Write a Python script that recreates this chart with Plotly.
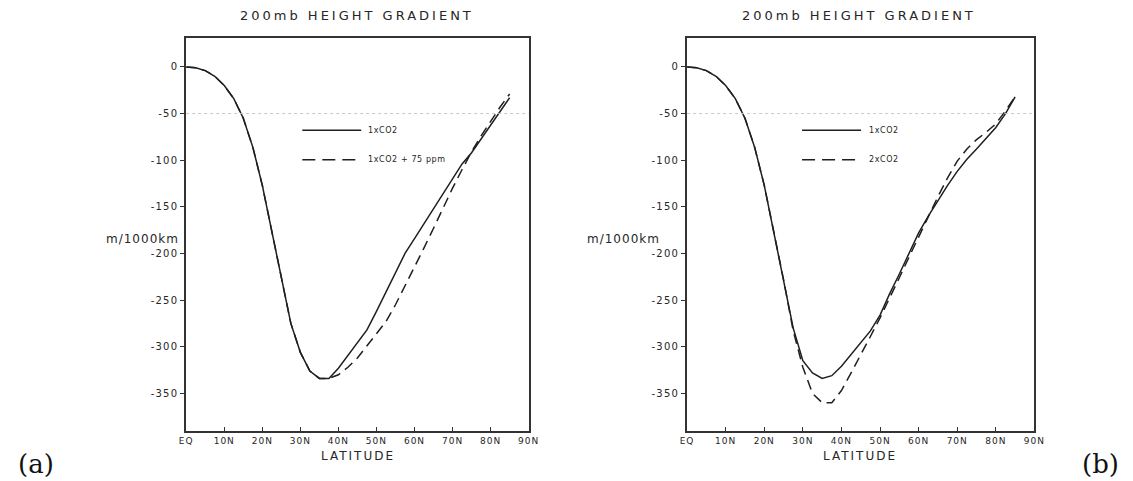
import plotly.graph_objects as go

# ---------------- data ----------------
lat = [0, 2.5, 5, 7.5, 10, 12.5, 15, 17.5, 20, 22.5, 25, 27.5, 30, 32.5, 35, 37.5,
       40, 42.5, 45, 47.5, 50, 52.5, 55, 57.5, 60, 62.5, 65, 67.5, 70, 72.5, 75,
       77.5, 80, 82.5, 85]

# panel (a)
a_1xco2 = [0, -1, -4, -10, -20, -34, -55, -86, -127, -177, -226, -275, -306, -326,
           -334, -334, -323, -309, -296, -282, -262, -241, -220, -200, -184, -168,
           -153, -137, -120, -104, -92, -77, -62, -47, -33]
a_75ppm = [0, -1, -4, -10, -20, -34, -55, -86, -127, -177, -226, -275, -306, -326,
           -334, -334, -330, -322, -312, -299, -287, -273, -255, -235, -214, -194,
           -173, -151, -130, -110, -91, -74, -58, -43, -29]

# panel (b)
b_1xco2 = [0, -1, -4, -10, -20, -34, -55, -86, -127, -177, -228, -280, -315, -328,
           -334, -331, -321, -308, -296, -283, -266, -243, -222, -200, -178, -160,
           -143, -127, -112, -99, -88, -76, -65, -50, -32]
b_2xco2 = [0, -1, -4, -10, -20, -34, -55, -86, -127, -177, -228, -283, -322, -350,
           -360, -360, -347, -328, -309, -289, -269, -248, -226, -204, -182, -160,
           -139, -119, -101, -88, -78, -70, -61, -47, -32]

x_tickvals = [0, 10, 20, 30, 40, 50, 60, 70, 80, 90]
x_ticktext = ["EQ", "10N", "20N", "30N", "40N", "50N", "60N", "70N", "80N", "90N"]
y_tickvals = [0, -50, -100, -150, -200, -250, -300, -350]
y_ticktext = ["0", "-50", "-100", "-150", "-200", "-250", "-300", "-350"]

title_text = "200mb HEIGHT GRADIENT"
xlabel = "LATITUDE"
ylabel = "m/1000km"
legend_a = ["1xCO2", "1xCO2 + 75 ppm"]
legend_b = ["1xCO2", "2xCO2"]
panel_tags = ["(a)", "(b)"]

# ---------------- style ----------------
INK = "#262626"
LINE = "#1f1f1f"
OFF = 8                 # page body margin of the browser
W, H = 1133 - OFF, 481 - OFF


def fx(px):
    return (px - OFF) / W


def fy(py):
    return 1 - (py - OFF) / H


def sp(txt, ls):
    return f'<span style="letter-spacing:{ls}px">{txt}</span>'


fig = go.Figure()

fig.add_trace(go.Scatter(x=lat, y=a_1xco2, mode="lines", xaxis="x", yaxis="y",
                         line=dict(color=LINE, width=1.5), showlegend=False))
fig.add_trace(go.Scatter(x=lat, y=a_75ppm, mode="lines", xaxis="x", yaxis="y",
                         line=dict(color=LINE, width=1.5, dash="10px,6px"), showlegend=False))
fig.add_trace(go.Scatter(x=lat, y=b_1xco2, mode="lines", xaxis="x2", yaxis="y2",
                         line=dict(color=LINE, width=1.5), showlegend=False))
fig.add_trace(go.Scatter(x=lat, y=b_2xco2, mode="lines", xaxis="x2", yaxis="y2",
                         line=dict(color=LINE, width=1.5, dash="10px,6px"), showlegend=False))

ydom = [fy(430.7), fy(38)]
xdom1 = [fx(182), fx(530)]
xdom2 = [fx(691), fx(1044)]

xax = dict(range=[0, 90], tickvals=x_tickvals,
           ticktext=[sp(t, 1) for t in x_ticktext],
           tickfont=dict(family="DejaVu Sans", size=9, color=INK),
           showline=True, linecolor="#333", linewidth=2, mirror=True,
           ticks="inside", ticklen=4, tickcolor="#333", showgrid=False, zeroline=False)
yax = dict(range=[-390, 31], tickvals=y_tickvals,
           ticktext=[sp(t, 1.2) for t in y_ticktext],
           tickfont=dict(family="DejaVu Sans", size=10, color=INK),
           showline=True, linecolor="#333", linewidth=2, mirror=True,
           ticks="outside", ticklen=4, tickcolor="#333", showgrid=False, zeroline=False)

fig.update_layout(
    width=W, height=H, margin=dict(l=0, r=0, t=0, b=0),
    paper_bgcolor="white", plot_bgcolor="white", showlegend=False,
    xaxis=dict(domain=xdom1, anchor="y", **xax),
    yaxis=dict(domain=ydom, anchor="x", **yax),
    xaxis2=dict(domain=xdom2, anchor="y2", **xax),
    yaxis2=dict(domain=ydom, anchor="x2", **yax),
)

annotations = []
shapes = []

# titles & axis labels
for cx, xa, ya, ylx in [(356, "x", "y", 177), (866, "x2", "y2", 666)]:
    annotations.append(dict(text=sp(title_text, 3), x=fx(cx), y=fy(16),
                            xref="paper", yref="paper", showarrow=False,
                            xanchor="center", yanchor="middle",
                            font=dict(family="DejaVu Sans", size=13, color=INK)))
    annotations.append(dict(text=sp(xlabel, 2), x=fx(cx + 1), y=fy(456),
                            xref="paper", yref="paper", showarrow=False,
                            xanchor="center", yanchor="middle",
                            font=dict(family="DejaVu Sans", size=12, color=INK)))
    annotations.append(dict(text=sp(ylabel, 1), x=fx(ylx), y=fy(239),
                            xref="paper", yref="paper", showarrow=False,
                            xanchor="right", yanchor="middle",
                            font=dict(family="DejaVu Sans", size=12, color=INK)))
    # faint dotted scan line at -50
    shapes.append(dict(type="line", xref=f"{xa} domain", yref=ya, x0=0, x1=1,
                       y0=-50, y1=-50, line=dict(color="#c8c8c8", width=1, dash="dot")))

# legends
for xa, ya, labels, lx0, lx1, tx in [
        ("x", "y", legend_a, 0.339, 0.511, 0.524),
        ("x2", "y2", legend_b, 0.331, 0.501, 0.517)]:
    for i, (lab, ydm) in enumerate(zip(labels, [0.765, 0.690])):
        shapes.append(dict(type="line", xref=f"{xa} domain", yref=f"{ya} domain",
                           x0=lx0, x1=lx1, y0=ydm, y1=ydm,
                           line=dict(color=LINE, width=1.6,
                                     dash="solid" if i == 0 else "13px,7px")))
        annotations.append(dict(text=sp(lab, 0.6), x=tx, y=ydm,
                                xref=f"{xa} domain", yref=f"{ya} domain",
                                showarrow=False, xanchor="left", yanchor="middle",
                                font=dict(family="DejaVu Sans", size=8, color=INK)))

# panel tags
for tag, px in zip(panel_tags, [29, 1111]):
    annotations.append(dict(text=tag, x=fx(px), y=fy(464), xref="paper", yref="paper",
                            showarrow=False, xanchor="center", yanchor="middle",
                            font=dict(family="DejaVu Serif", size=26, color="#111")))

fig.update_layout(annotations=annotations, shapes=shapes)
fig.write_html("out.html")
